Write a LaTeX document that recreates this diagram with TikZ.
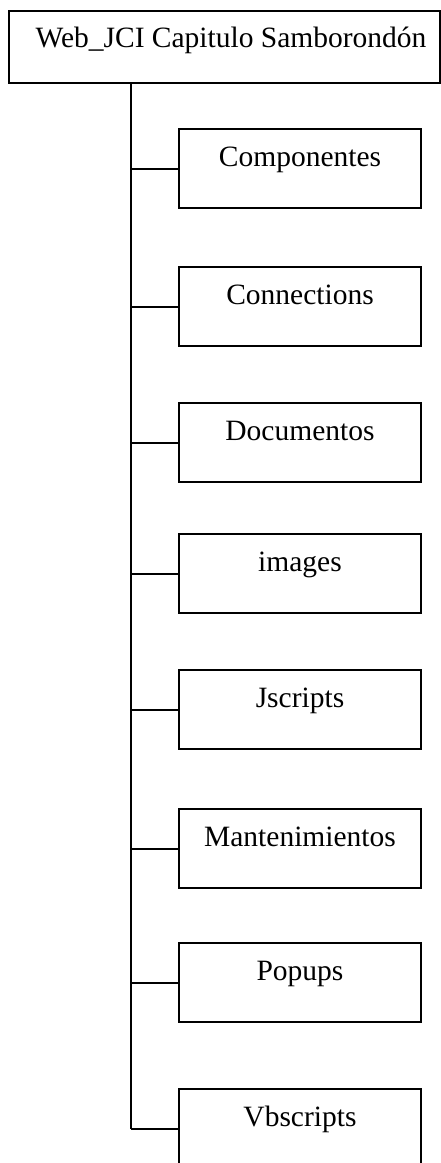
\documentclass[tikz,border=0pt]{standalone}
\usepackage{fontspec}
\setmainfont{Liberation Serif}
\usetikzlibrary{calc}
\tikzset{
  box/.style={draw=black, line width=2pt, minimum width=242pt, minimum height=79pt, inner sep=0pt, anchor=north west},
  rootbox/.style={draw=black, line width=2pt, minimum width=431pt, minimum height=72pt, inner sep=0pt, anchor=north west},
  lbl/.style={anchor=base, inner sep=0pt, font=\fontsize{29.5}{34}\selectfont},
  conn/.style={draw=black, line width=2pt}
}
\begin{document}
\begin{tikzpicture}[x=1pt,y=-1pt]
\useasboundingbox (0,0) rectangle (440,1163);
\node[rootbox] (root) at (8,10) {};
\node[lbl] (rootlbl) at (231,47) {Web\_JCI Capitulo Samborondón};
\coordinate (trunk) at (131,82);
\foreach \n/\y/\t in {1/128/Componentes, 2/266/Connections, 3/402/Documentos, 4/533/images, 5/669/Jscripts, 6/808/Mantenimientos, 7/942/Popups, 8/1088/Vbscripts}{
  \node[box] (c\n) at (178,\y) {};
  \node[lbl] (l\n) at ($(c\n.north)+(0,38.5)$) {\t};
  \draw[conn] (c\n.west) -- (c\n.west -| trunk);
}
\draw[conn] (trunk) -- (trunk |- c8.west);
\end{tikzpicture}
\end{document}
